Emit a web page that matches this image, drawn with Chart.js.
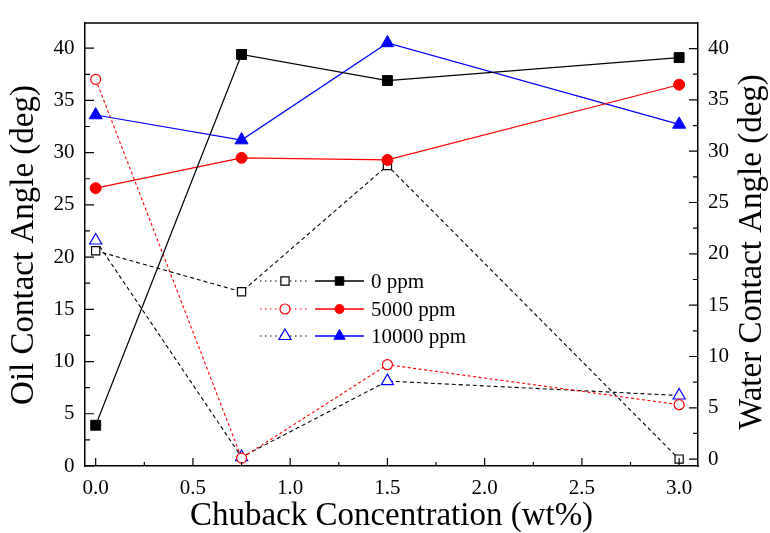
<!DOCTYPE html>
<html>
<head>
<meta charset="utf-8">
<script src="https://cdn.jsdelivr.net/npm/chart.js@4.4.0/dist/chart.umd.min.js"></script>
<style>
  html, body { margin: 0; padding: 0; background: #fff; }
</style>
</head>
<body>
<canvas id="chart" width="770" height="533"></canvas>
<script>
// Chuback concentration (wt%)
const concentration = [0, 0.75, 1.5, 3.0];

// Oil contact angle (left axis, filled symbols)
const oil0 = [3.9, 39.4, 36.9, 39.1];
const oil5000 = [26.6, 29.5, 29.3, 36.5];
const oil10000 = [33.6, 31.2, 40.5, 32.7];

// Water contact angle (right axis, open symbols)
const water0 = [20.3, 16.3, 28.6, 0];
const water5000 = [37.0, 0.1, 9.2, 5.3];
const water10000 = [21.3, 0.2, 7.6, 6.2];

const seriesLabels = ['0 ppm', '5000 ppm', '10000 ppm'];
const xTicks = [0, 0.5, 1.0, 1.5, 2.0, 2.5, 3.0];
const yTicks = [0, 5, 10, 15, 20, 25, 30, 35, 40];

const FONT = "'Liberation Serif', 'Times New Roman', serif";
const tickFont = { family: FONT, size: 21 };

const toPoints = ys => ys.map((y, i) => ({ x: concentration[i], y }));

function filledSeries(label, data, color, style, radius) {
  return {
    label,
    data: toPoints(data),
    yAxisID: 'y',
    borderColor: color,
    backgroundColor: color,
    pointBackgroundColor: color,
    pointBorderColor: color,
    pointStyle: style,
    pointRadius: radius,
    pointBorderWidth: 1,
    borderWidth: 1.2
  };
}

function openSeries(label, data, lineColor, markColor, style, radius, dash) {
  return {
    label,
    data: toPoints(data),
    yAxisID: 'y2',
    borderColor: lineColor,
    borderDash: dash,
    backgroundColor: '#fff',
    pointBackgroundColor: '#fff',
    pointBorderColor: markColor,
    pointStyle: style,
    pointRadius: radius,
    pointBorderWidth: 1.2,
    borderWidth: 1.1
  };
}

// ticks pointing into the plot, major + minor
const inwardTicks = {
  id: 'inwardTicks',
  afterDatasetsDraw(chart) {
    const { ctx, chartArea: a, scales } = chart;
    ctx.save();
    ctx.strokeStyle = '#000';
    ctx.lineWidth = 1.2;
    ctx.beginPath();
    const xs = scales.x;
    xTicks.forEach((v, i) => {
      const px = xs.getPixelForValue(v);
      ctx.moveTo(px, a.bottom);
      ctx.lineTo(px, a.bottom - 8);
      if (i < xTicks.length - 1) {
        const m = xs.getPixelForValue((v + xTicks[i + 1]) / 2);
        ctx.moveTo(m, a.bottom);
        ctx.lineTo(m, a.bottom - 4);
      }
    });
    [[scales.y, a.left, 1], [scales.y2, a.right, -1]].forEach(([s, edge, dir]) => {
      yTicks.forEach((v, i) => {
        const py = s.getPixelForValue(v);
        ctx.moveTo(edge, py);
        ctx.lineTo(edge + dir * 9, py);
        if (i < yTicks.length - 1) {
          const m = s.getPixelForValue((v + yTicks[i + 1]) / 2);
          ctx.moveTo(edge, m);
          ctx.lineTo(edge + dir * 5, m);
        }
      });
    });
    ctx.stroke();
    // top edge of frame
    ctx.lineWidth = 1.5;
    ctx.beginPath();
    ctx.moveTo(a.left, a.top);
    ctx.lineTo(a.right, a.top);
    ctx.stroke();
    ctx.restore();
  }
};

// both y titles read bottom-to-top
const sideTitles = {
  id: 'sideTitles',
  afterDraw(chart) {
    const { ctx } = chart;
    ctx.save();
    ctx.fillStyle = '#000';
    ctx.font = `33px ${FONT}`;
    ctx.textAlign = 'center';
    ctx.textBaseline = 'middle';
    [['Oil Contact Angle (deg)', 24, 245], ['Water Contact Angle (deg)', 752, 252]].forEach(([t, x, y]) => {
      ctx.save();
      ctx.translate(x, y);
      ctx.rotate(-Math.PI / 2);
      ctx.fillText(t, 0, 0);
      ctx.restore();
    });
    ctx.restore();
  }
};

// legend: open symbol on dotted line, filled symbol on solid line
const pairLegend = {
  id: 'pairLegend',
  afterDraw(chart) {
    const { ctx } = chart;
    const ds = chart.data.datasets;
    const rows = [281, 309, 336];
    ctx.save();
    seriesLabels.forEach((label, i) => {
      const y = rows[i];
      const o = ds[i + 3];
      const f = ds[i];
      ctx.lineWidth = 1.2;
      ctx.strokeStyle = o.borderColor;
      ctx.setLineDash([1.5, 3.5]);
      ctx.beginPath();
      ctx.moveTo(260, y);
      ctx.lineTo(310, y);
      ctx.stroke();
      ctx.setLineDash([]);
      ctx.fillStyle = '#fff';
      ctx.strokeStyle = o.pointBorderColor;
      Chart.helpers.drawPoint(ctx, { pointStyle: o.pointStyle, radius: o.pointRadius, rotation: 0, borderWidth: 1.2 }, 285, y);
      ctx.strokeStyle = f.borderColor;
      ctx.lineWidth = 1.5;
      ctx.beginPath();
      ctx.moveTo(315, y);
      ctx.lineTo(364, y);
      ctx.stroke();
      ctx.fillStyle = f.borderColor;
      ctx.lineWidth = 1;
      Chart.helpers.drawPoint(ctx, { pointStyle: f.pointStyle, radius: f.pointRadius - 1, rotation: 0, borderWidth: 1 }, 339.5, y);
      ctx.fillStyle = '#000';
      ctx.font = `21px ${FONT}`;
      ctx.textAlign = 'left';
      ctx.textBaseline = 'middle';
      ctx.fillText(label, 371, y + 1);
    });
    ctx.restore();
  }
};

new Chart(document.getElementById('chart'), {
  type: 'line',
  data: {
    datasets: [
      filledSeries(seriesLabels[0], oil0, '#000000', 'rect', 7),
      filledSeries(seriesLabels[1], oil5000, '#ff0000', 'circle', 5.5),
      filledSeries(seriesLabels[2], oil10000, '#0000ff', 'triangle', 7.5),
      openSeries(seriesLabels[0], water0, '#000000', '#000000', 'rect', 5.8, [4, 3]),
      openSeries(seriesLabels[1], water5000, '#ff0000', '#ff0000', 'circle', 5, [3, 2.5]),
      openSeries(seriesLabels[2], water10000, '#000000', '#0000ff', 'triangle', 7, [4, 3])
    ]
  },
  options: {
    responsive: false,
    animation: false,
    layout: { padding: { top: 13, left: 0, right: 0, bottom: 0 } },
    elements: { line: { tension: 0 } },
    plugins: {
      legend: { display: false },
      tooltip: { enabled: false }
    },
    scales: {
      x: {
        type: 'linear',
        min: -0.055,
        max: 3.097,
        afterBuildTicks: s => { s.ticks = xTicks.map(v => ({ value: v })); },
        afterFit: s => { s.height = 67; },
        grid: { display: false, drawTicks: false },
        border: { display: true, color: '#000', width: 1.5 },
        ticks: {
          color: '#000',
          padding: 10,
          font: tickFont,
          maxRotation: 0,
          callback: v => v.toFixed(1)
        },
        title: {
          display: true,
          text: 'Chuback Concentration (wt%)',
          color: '#000',
          padding: 0,
          font: { family: FONT, size: 33, lineHeight: 1 }
        }
      },
      y: {
        type: 'linear',
        position: 'left',
        min: 0,
        max: 42.4,
        afterBuildTicks: s => { s.ticks = yTicks.map(v => ({ value: v })); },
        afterFit: s => { s.width = 85; },
        grid: { display: false, drawTicks: false },
        border: { display: true, color: '#000', width: 1.5 },
        ticks: {
          color: '#000',
          padding: 10.5,
          font: tickFont,
          callback: v => String(v)
        }
      },
      y2: {
        type: 'linear',
        position: 'right',
        min: -0.67,
        max: 42.48,
        afterBuildTicks: s => { s.ticks = yTicks.map(v => ({ value: v })); },
        afterFit: s => { s.width = 72; },
        grid: { display: false, drawTicks: false },
        border: { display: true, color: '#000', width: 1.5 },
        ticks: {
          color: '#000',
          padding: 10,
          font: tickFont,
          callback: v => String(v)
        }
      }
    }
  },
  plugins: [inwardTicks, sideTitles, pairLegend]
});
</script>
</body>
</html>
